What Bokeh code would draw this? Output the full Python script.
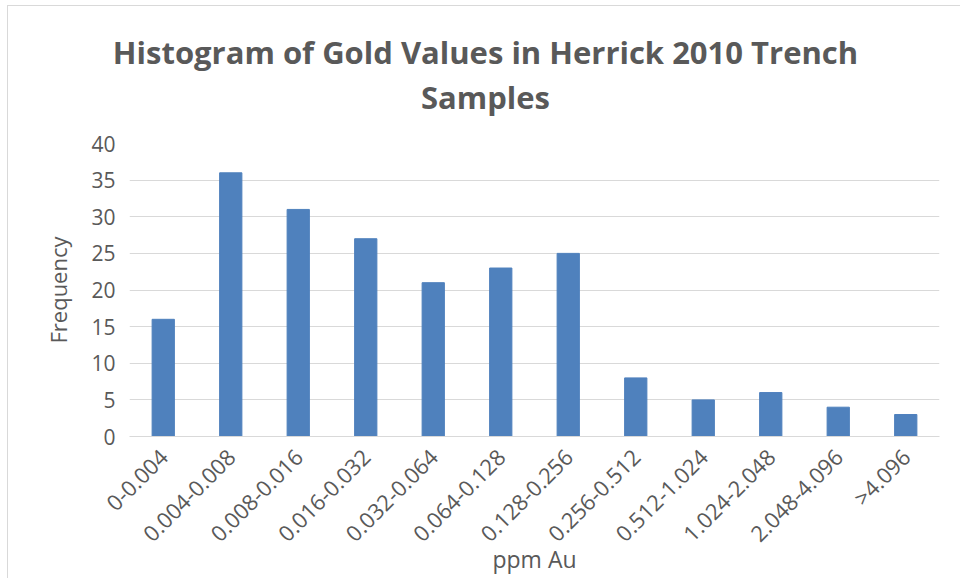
import math
from bokeh.plotting import figure
from bokeh.models import Div, ColumnDataSource, FixedTicker
from bokeh.layouts import column
from bokeh.embed import file_html
from bokeh.resources import INLINE

bins = ["0-0.004", "0.004-0.008", "0.008-0.016", "0.016-0.032", "0.032-0.064",
        "0.064-0.128", "0.128-0.256", "0.256-0.512", "0.512-1.024", "1.024-2.048",
        "2.048-4.096", ">4.096"]
freq = [16, 36, 31, 27, 21, 23, 25, 8, 5, 6, 4, 3]
y_ticks = [0, 5, 10, 15, 20, 25, 30, 35, 40]
title_lines = ["Histogram of Gold Values in Herrick 2010 Trench", "Samples"]

FONT = "Open Sans"
GRAY = "#595959"

title = Div(
    text="<div style=\"text-align:center; font-family:'Open Sans'; font-weight:bold; "
         "font-size:31px; line-height:45px; color:#595959; padding-top:19px; "
         "padding-left:9px; width:936px;\">" + "<br>".join(title_lines) + "</div>",
    width=942, height=115)

src = ColumnDataSource(dict(bins=bins, freq=freq))

p = figure(x_range=bins, y_range=(0, 40), width=952, height=447,
           output_backend="svg", toolbar_location=None, title=None,
           min_border_left=121, min_border_right=21, min_border_top=12,
           min_border_bottom=20)
p.vbar(x="bins", top="freq", width=0.33, source=src, color="#4F81BD")

p.outline_line_color = None
p.xgrid.grid_line_color = None
p.ygrid.grid_line_color = "#d9d9d9"
p.ygrid.grid_line_width = 1

p.yaxis.ticker = FixedTicker(ticks=y_ticks)
p.yaxis.axis_line_color = None
p.yaxis.major_tick_line_color = None
p.yaxis.minor_tick_line_color = None
p.yaxis.major_label_text_font = FONT
p.yaxis.major_label_text_font_size = "21px"
p.yaxis.major_label_text_color = GRAY
p.yaxis.major_label_standoff = 8
p.yaxis.axis_label = "Frequency"
p.yaxis.axis_label_text_font = FONT
p.yaxis.axis_label_text_font_size = "22px"
p.yaxis.axis_label_text_font_style = "normal"
p.yaxis.axis_label_text_color = GRAY
p.yaxis.axis_label_standoff = 15

p.xaxis.axis_line_color = "#d9d9d9"
p.xaxis.axis_line_width = 1
p.xaxis.major_tick_line_color = None
p.xaxis.minor_tick_line_color = None
p.xaxis.major_label_orientation = math.pi / 4
p.xaxis.major_label_text_font = FONT
p.xaxis.major_label_text_font_size = "22px"
p.xaxis.major_label_text_color = GRAY
p.xaxis.major_label_standoff = 10
p.xaxis.axis_label = "ppm Au"
p.xaxis.axis_label_text_font = FONT
p.xaxis.axis_label_text_font_size = "23px"
p.xaxis.axis_label_text_font_style = "normal"
p.xaxis.axis_label_text_color = GRAY
p.xaxis.axis_label_standoff = -18

layout = column(title, p, spacing=0)
layout.styles = {"margin-left": "7px", "margin-top": "5px",
                 "border-top": "1px solid #d9d9d9", "border-left": "1px solid #d9d9d9"}

open("out.html", "w").write(file_html(layout, INLINE))
